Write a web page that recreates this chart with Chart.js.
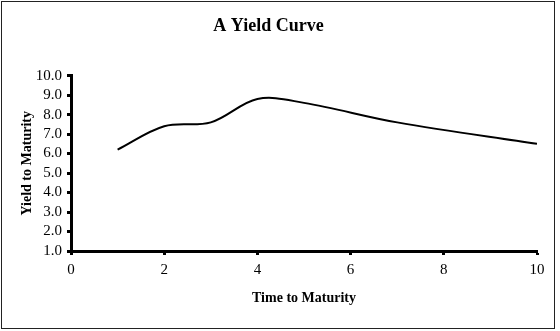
<!DOCTYPE html>
<html>
<head>
<meta charset="utf-8">
<script src="https://cdn.jsdelivr.net/npm/chart.js@4"></script>
<style>
  html, body { margin: 0; padding: 0; background: #fff; }
  #wrap { position: relative; width: 560px; height: 331px; }
  #frame { position: absolute; left: 1px; top: 1px; width: 552px; height: 326px; border: 1px solid #222; pointer-events: none; }
  canvas { position: absolute; left: 0; top: 0; }
</style>
</head>
<body>
<div id="wrap">
  <canvas id="c" width="560" height="331"></canvas>
  <div id="frame"></div>
</div>
<script>
const maturities = [1, 2, 3, 4, 5, 7, 10];
const yields = [6.2, 7.4, 7.6, 8.8, 8.6, 7.6, 6.5];
const titleText = "A Yield Curve";
const xTitle = "Time to Maturity";
const yTitle = "Yield to Maturity";

const serif = "'Liberation Serif', 'Times New Roman', serif";

new Chart(document.getElementById("c"), {
  type: "line",
  data: {
    datasets: [{
      data: maturities.map((m, i) => ({ x: m, y: yields[i] })),
      borderColor: "#000",
      borderWidth: 2,
      pointRadius: 0,
      tension: 0.35,
      fill: false,
    }],
  },
  options: {
    responsive: false,
    animation: false,
    layout: { padding: { left: 0, right: 23, top: 0, bottom: 0 } },
    plugins: {
      legend: { display: false },
      tooltip: { enabled: false },
      title: {
        display: true,
        text: titleText,
        color: "#000",
        font: { family: serif, size: 18, weight: "bold" },
        padding: { top: 16, bottom: 38 },
      },
    },
    scales: {
      x: {
        type: "linear",
        min: 0, max: 10,
        ticks: { stepSize: 2, autoSkip: false, color: "#000", padding: 6, font: { family: serif, size: 15 } },
        grid: { drawOnChartArea: false, drawTicks: true, tickLength: 4, tickColor: "#000", tickWidth: 3 },
        border: { display: true, color: "#000", width: 3 },
        title: {
          display: true, text: xTitle, color: "#000",
          font: { family: serif, size: 14, weight: "bold" },
          padding: { top: 0, bottom: 24 },
        },
        afterFit: s => { s.height = 80; },
      },
      y: {
        min: 1, max: 10,
        ticks: {
          stepSize: 1, autoSkip: false, color: "#000", padding: 5,
          font: { family: serif, size: 15 },
          callback: v => v.toFixed(1),
        },
        grid: { drawOnChartArea: false, drawTicks: true, tickLength: 4, tickColor: "#000", tickWidth: 3 },
        border: { display: true, color: "#000", width: 3 },
        title: {
          display: true, text: yTitle, color: "#000",
          font: { family: serif, size: 14, weight: "bold" },
          padding: { top: 19, bottom: 0 },
        },
        afterFit: s => { s.width = 71; },
      },
    },
  },
});
</script>
</body>
</html>
